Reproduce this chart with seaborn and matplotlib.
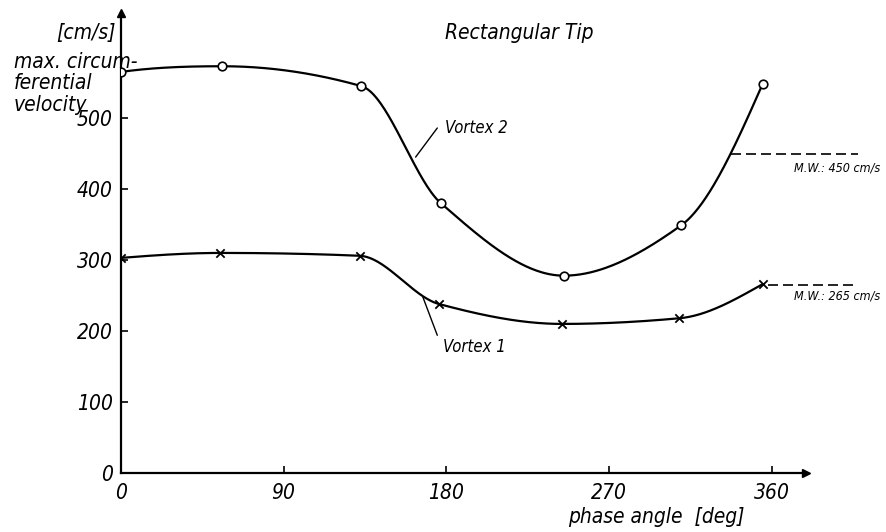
import numpy as np
import pandas as pd
import matplotlib
matplotlib.use("Agg")
import matplotlib.pyplot as plt
import seaborn as sns

# Measured maxima of the circumferential velocity, rectangular tip
phase_v2 = [0, 56, 133, 177, 245, 310, 355]
vel_v2 = [565, 573, 545, 380, 278, 349, 548]
phase_v1 = [0, 55, 132, 176, 244, 309, 355]
vel_v1 = [303, 310, 306, 238, 210, 218, 266]

mean_v2 = 450
mean_v1 = 265
x_ticks = [0, 90, 180, 270, 360]
y_ticks = [0, 100, 200, 300, 400, 500]


def pchip(x, y, n=500):
    """Shape-preserving piecewise cubic through the measured points."""
    x = np.asarray(x, float)
    y = np.asarray(y, float)
    h = np.diff(x)
    delta = np.diff(y) / h
    m = len(x)
    d = np.zeros(m)
    for k in range(1, m - 1):
        if delta[k - 1] * delta[k] > 0:
            w1 = 2 * h[k] + h[k - 1]
            w2 = h[k] + 2 * h[k - 1]
            d[k] = (w1 + w2) / (w1 / delta[k - 1] + w2 / delta[k])

    def end(h0, h1, d0, d1):
        s = ((2 * h0 + h1) * d0 - h0 * d1) / (h0 + h1)
        if np.sign(s) != np.sign(d0):
            s = 0.0
        elif np.sign(d0) != np.sign(d1) and abs(s) > abs(3 * d0):
            s = 3 * d0
        return s

    d[0] = end(h[0], h[1], delta[0], delta[1])
    d[-1] = end(h[-1], h[-2], delta[-1], delta[-2])
    xs = np.linspace(x[0], x[-1], n)
    i = np.clip(np.searchsorted(x, xs, side="right") - 1, 0, m - 2)
    t = (xs - x[i]) / h[i]
    h00 = 2 * t**3 - 3 * t**2 + 1
    h10 = t**3 - 2 * t**2 + t
    h01 = -2 * t**3 + 3 * t**2
    h11 = t**3 - t**2
    ys = h00 * y[i] + h10 * h[i] * d[i] + h01 * y[i + 1] + h11 * h[i] * d[i + 1]
    return xs, ys


sns.set_style("ticks")
plt.rcParams["font.family"] = ["DejaVu Sans"]
plt.rcParams["font.stretch"] = "condensed"
plt.rcParams["font.style"] = "italic"
plt.rcParams["text.color"] = "black"

W, H = 886, 532
fig = plt.figure(figsize=(W / 100, H / 100), dpi=100)
ax = fig.add_axes([121 / W, 59 / H, (806 - 121) / W, (473 - 13) / H])

curves = {}
for name, px, vy in (("v2", phase_v2, vel_v2), ("v1", phase_v1, vel_v1)):
    xs, ys = pchip(px, vy)
    curves[name] = (xs, ys)
    sns.lineplot(x=xs, y=ys, ax=ax, color="black", lw=1.6, sort=False)

sns.scatterplot(x=phase_v2, y=vel_v2, ax=ax, marker="o", s=38,
                facecolor="white", edgecolor="black", linewidth=1.2, zorder=5)
sns.scatterplot(x=phase_v1, y=vel_v1, ax=ax, marker="x", s=36,
                color="black", linewidth=1.3, zorder=5)

ax.set_xlim(0, 379)
ax.set_ylim(0, 648)
sns.despine(ax=ax)
for s in ("left", "bottom"):
    ax.spines[s].set_linewidth(1.6)
    ax.spines[s].set_color("black")

# axis arrowheads
ax.plot(1, 0, ">", color="black", ms=6, transform=ax.transAxes, clip_on=False)
ax.plot(0, 1, "^", color="black", ms=6, transform=ax.transAxes, clip_on=False)

ax.set_xticks(x_ticks)
ax.set_yticks(y_ticks)
ax.set_xticklabels([str(v) for v in x_ticks], fontsize=15)
ax.set_yticklabels([str(v) for v in y_ticks], fontsize=15)
ax.tick_params(direction="in", length=5, width=1.2, colors="black")
ax.tick_params(axis="x", pad=7)
ax.tick_params(axis="y", pad=6)
ax.grid(False)

# mean values, dashed from where the curves reach them
xs2, ys2 = curves["v2"]
late = xs2 > 300
start2 = np.interp(mean_v2, ys2[late], xs2[late])
ax.plot([start2, 408], [mean_v2, mean_v2], ls=(0, (6, 3)), color="black",
        lw=1.2, clip_on=False)
ax.text(420, 430, f"M.W.: {mean_v2} cm/s", fontsize=9, ha="right", va="center")
ax.plot([phase_v1[-1] + 3, 408], [mean_v1, mean_v1], ls=(0, (6, 3)),
        color="black", lw=1.2, clip_on=False)
ax.text(420, 250, f"M.W.: {mean_v1} cm/s", fontsize=9, ha="right", va="center")

# curve labels
ax.plot([163, 175], [445, 486], color="black", lw=1.0)
ax.text(179, 486, "Vortex 2", fontsize=12, ha="left", va="center")
ax.plot([167, 175], [248, 194], color="black", lw=1.0)
ax.text(178, 177, "Vortex 1", fontsize=12, ha="left", va="center")

# titles and axis captions
fig.text(445 / W, 1 - 33 / H, "Rectangular Tip", fontsize=15, ha="left", va="center")
fig.text(745 / W, 1 - 517 / H, "phase angle  [deg]", fontsize=15, ha="right", va="center")
fig.text(116 / W, 1 - 33 / H, "[cm/s]", fontsize=15, ha="right", va="center")
fig.text(14 / W, 1 - 62 / H, "max. circum-", fontsize=15, ha="left", va="center")
fig.text(14 / W, 1 - 83 / H, "ferential", fontsize=15, ha="left", va="center")
fig.text(14 / W, 1 - 105 / H, "velocity", fontsize=15, ha="left", va="center")

fig.savefig("out.png", dpi=100)
